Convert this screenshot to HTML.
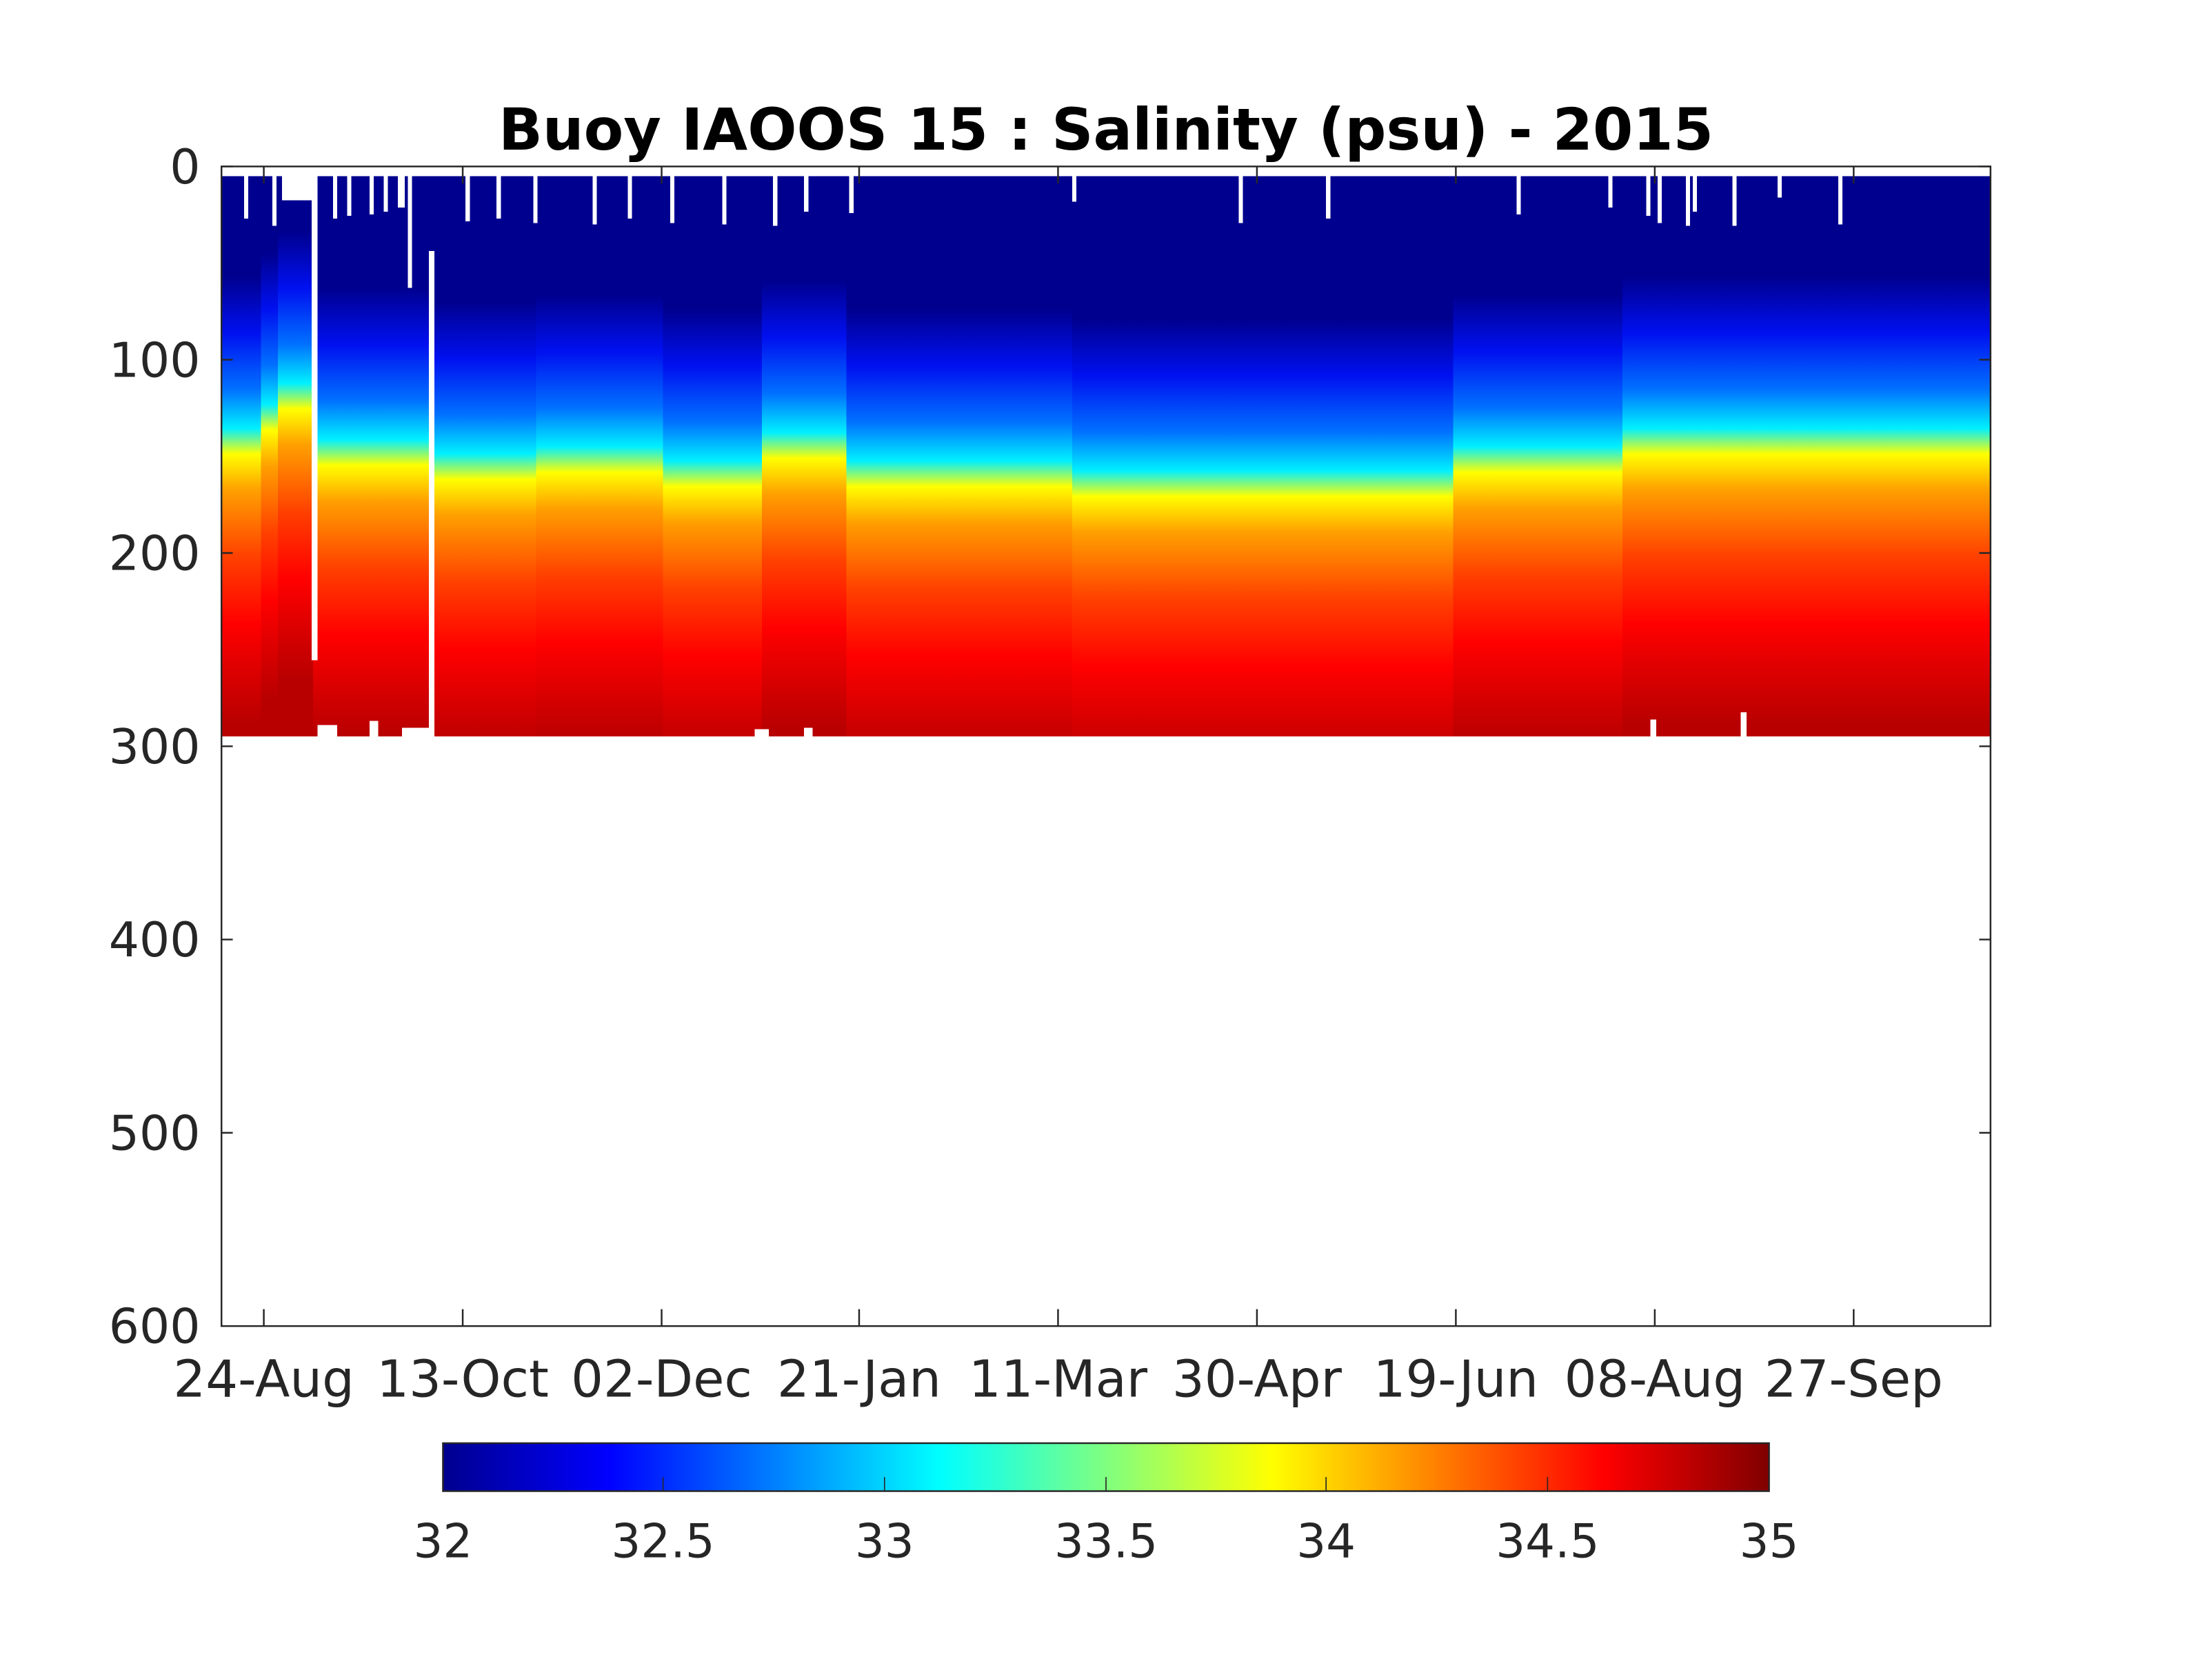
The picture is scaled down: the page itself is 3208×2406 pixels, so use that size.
<!DOCTYPE html>
<html><head><meta charset="utf-8"><style>html,body{margin:0;padding:0;background:#fff}svg{display:block}</style></head>
<body>
<svg xmlns="http://www.w3.org/2000/svg" xmlns:xlink="http://www.w3.org/1999/xlink" width="3208" height="2406" viewBox="0 0 1568 1176">
<defs>
<linearGradient id="g" gradientUnits="userSpaceOnUse" x1="0" y1="125" x2="0" y2="522">
<stop offset="0" stop-color="#00008f"/>
<stop offset="0.20" stop-color="#00008f"/>
<stop offset="0.30" stop-color="#0010f0"/>
<stop offset="0.40" stop-color="#0070ff"/>
<stop offset="0.47" stop-color="#00f0ff"/>
<stop offset="0.516" stop-color="#ffff00"/>
<stop offset="0.58" stop-color="#ffa000"/>
<stop offset="0.70" stop-color="#ff4000"/>
<stop offset="0.82" stop-color="#ff0000"/>
<stop offset="0.945" stop-color="#cc0000"/>
<stop offset="1" stop-color="#b80000"/>
</linearGradient>
<linearGradient id="s1" href="#g" xlink:href="#g" gradientTransform="translate(0,-8)"/>
<linearGradient id="s2a" href="#g" xlink:href="#g" gradientTransform="translate(0,-25)"/>
<linearGradient id="s2" href="#g" xlink:href="#g" gradientTransform="translate(0,-40)"/>
<linearGradient id="s3" href="#g" xlink:href="#g" gradientTransform="translate(0,0)"/>
<linearGradient id="s4" href="#g" xlink:href="#g" gradientTransform="translate(0,10)"/>
<linearGradient id="s5" href="#g" xlink:href="#g" gradientTransform="translate(0,5)"/>
<linearGradient id="s6" href="#g" xlink:href="#g" gradientTransform="translate(0,15)"/>
<linearGradient id="s7" href="#g" xlink:href="#g" gradientTransform="translate(0,-5)"/>
<linearGradient id="s8" href="#g" xlink:href="#g" gradientTransform="translate(0,15)"/>
<linearGradient id="s9" href="#g" xlink:href="#g" gradientTransform="translate(0,22)"/>
<linearGradient id="s10" href="#g" xlink:href="#g" gradientTransform="translate(0,5)"/>
<linearGradient id="s11" href="#g" xlink:href="#g" gradientTransform="translate(0,-8)"/>
<linearGradient id="cb" x1="0" y1="0" x2="1" y2="0">
<stop offset="0" stop-color="#00008f"/>
<stop offset="0.125" stop-color="#0000ff"/>
<stop offset="0.375" stop-color="#00ffff"/>
<stop offset="0.625" stop-color="#ffff00"/>
<stop offset="0.875" stop-color="#ff0000"/>
<stop offset="1" stop-color="#800000"/>
</linearGradient>
</defs>
<text x="784" y="106" text-anchor="middle" font-family="DejaVu Sans, Liberation Sans, sans-serif" font-weight="bold" font-size="41">Buoy IAOOS 15 : Salinity (psu) - 2015</text>
<g shape-rendering="crispEdges">
<rect x="157" y="125" width="28" height="397" fill="url(#s1)"/>
<rect x="185" y="125" width="12" height="397" fill="url(#s2a)"/>
<rect x="197" y="125" width="25" height="397" fill="url(#s2)"/>
<rect x="222" y="125" width="84" height="397" fill="url(#s3)"/>
<rect x="306" y="125" width="74" height="397" fill="url(#s4)"/>
<rect x="380" y="125" width="90" height="397" fill="url(#s5)"/>
<rect x="470" y="125" width="70" height="397" fill="url(#s6)"/>
<rect x="540" y="125" width="60" height="397" fill="url(#s7)"/>
<rect x="600" y="125" width="160" height="397" fill="url(#s8)"/>
<rect x="760" y="125" width="270" height="397" fill="url(#s9)"/>
<rect x="1030" y="125" width="120" height="397" fill="url(#s10)"/>
<rect x="1150" y="125" width="261" height="397" fill="url(#s11)"/>
<g fill="#fff">
<rect x="221" y="125" width="4" height="343"/>
<rect x="304" y="178" width="4" height="344"/>
<rect x="200" y="125" width="21" height="17"/>
<rect x="289" y="125" width="3" height="79"/>
<rect x="173" y="125" width="3" height="30"/><rect x="193" y="125" width="3" height="35"/>
<rect x="236" y="125" width="3" height="30"/><rect x="246" y="125" width="3" height="28"/>
<rect x="262" y="125" width="3" height="27"/><rect x="272" y="125" width="3" height="25"/>
<rect x="282" y="125" width="5" height="22"/>
<rect x="330" y="125" width="3" height="32"/><rect x="352" y="125" width="3" height="30"/>
<rect x="378" y="125" width="3" height="33"/><rect x="420" y="125" width="3" height="34"/>
<rect x="445" y="125" width="3" height="30"/><rect x="475" y="125" width="3" height="33"/>
<rect x="512" y="125" width="3" height="34"/><rect x="548" y="125" width="3" height="35"/>
<rect x="570" y="125" width="3" height="25"/><rect x="602" y="125" width="3" height="26"/>
<rect x="760" y="125" width="3" height="18"/><rect x="878" y="125" width="3" height="33"/>
<rect x="940" y="125" width="3" height="30"/><rect x="1075" y="125" width="3" height="27"/>
<rect x="1140" y="125" width="3" height="22"/><rect x="1175" y="125" width="3" height="33"/>
<rect x="1228" y="125" width="3" height="35"/><rect x="1260" y="125" width="3" height="15"/>
<rect x="1303" y="125" width="3" height="34"/><rect x="1167" y="125" width="3" height="28"/>
<rect x="1200" y="125" width="3" height="25"/><rect x="1195" y="125" width="3" height="35"/>
<rect x="225" y="514" width="14" height="8"/><rect x="262" y="511" width="6" height="11"/>
<rect x="285" y="516" width="19" height="6"/><rect x="535" y="517" width="10" height="5"/>
<rect x="1170" y="510" width="4" height="12"/><rect x="1234" y="505" width="4" height="17"/>
<rect x="570" y="516" width="6" height="6"/>
</g>
</g>
<g stroke="#262626" stroke-width="1.2" fill="none">
<rect x="157" y="118" width="1254" height="822"/>
<path d="M157 118h8M157 255h8M157 392h8M157 529h8M157 666h8M157 803h8M1411 118h-8M1411 255h-8M1411 392h-8M1411 529h-8M1411 666h-8M1411 803h-8"/>
<path d="M187 940v-12M328 940v-12M469 940v-12M609 940v-12M750 940v-12M891 940v-12M1032 940v-12M1173 940v-12M1314 940v-12"/>
<path d="M187 118v12M328 118v12M469 118v12M609 118v12M750 118v12M891 118v12M1032 118v12M1173 118v12M1314 118v12"/>
</g>
<g font-family="DejaVu Sans, Liberation Sans, sans-serif" fill="#262626">
<g text-anchor="end" font-size="34">
<text x="142" y="130">0</text><text x="142" y="267">100</text><text x="142" y="404">200</text>
<text x="142" y="541">300</text><text x="142" y="678">400</text><text x="142" y="815">500</text><text x="142" y="952">600</text>
</g>
<g text-anchor="middle" font-size="36">
<text x="187" y="990">24-Aug</text><text x="328" y="990">13-Oct</text><text x="469" y="990">02-Dec</text>
<text x="609" y="990">21-Jan</text><text x="750" y="990">11-Mar</text><text x="891" y="990">30-Apr</text>
<text x="1032" y="990">19-Jun</text><text x="1173" y="990">08-Aug</text><text x="1314" y="990">27-Sep</text>
</g>
</g>
<rect x="314" y="1023" width="940" height="34" fill="url(#cb)" stroke="#262626" stroke-width="1.2"/>
<g stroke="#262626" stroke-width="0.8"><path d="M470 1057v-10M627 1057v-10M784 1057v-10M940 1057v-10M1097 1057v-10"/></g>
<g font-family="DejaVu Sans, Liberation Sans, sans-serif" font-size="33" fill="#262626" text-anchor="middle">
<text x="314" y="1104">32</text><text x="470" y="1104">32.5</text><text x="627" y="1104">33</text>
<text x="784" y="1104">33.5</text><text x="940" y="1104">34</text><text x="1097" y="1104">34.5</text><text x="1254" y="1104">35</text>
</g>
</svg>
</body></html>
